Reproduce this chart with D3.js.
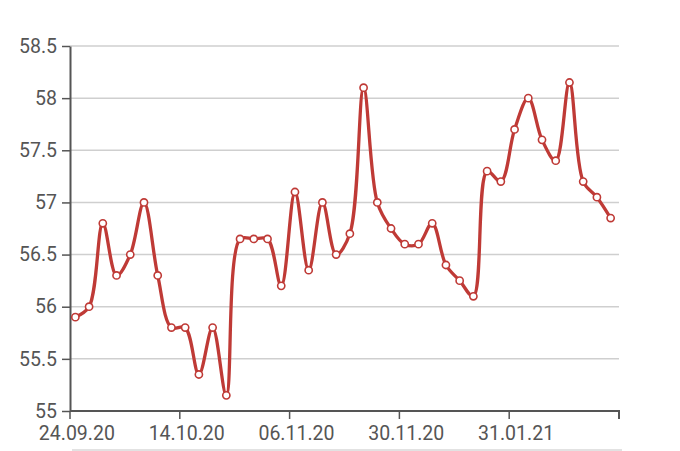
<!DOCTYPE html>
<html><head><meta charset="utf-8">
<script src="https://cdn.jsdelivr.net/npm/d3@7"></script>
<style>
html,body{margin:0;padding:0;background:#fff;}
svg{display:block;}
text{font-family:Roboto,"Noto Sans",sans-serif;}
</style></head>
<body><svg id="chart" width="680" height="451"></svg>
<script>
const values = [55.9,56.0,56.8,56.3,56.5,57.0,56.3,55.8,55.8,55.35,55.8,55.15,56.65,56.65,56.65,56.2,57.1,56.35,57.0,56.5,56.7,58.1,57.0,56.75,56.6,56.6,56.8,56.4,56.25,56.1,57.3,57.2,57.7,58.0,57.6,57.4,58.15,57.2,57.05,56.85];
const tickIndex = [0,8,16,24,32];
const tickLabels = ["24.09.20","14.10.20","06.11.20","30.11.20","31.01.21"];
const yTicks = [55,55.5,56,56.5,57,57.5,58,58.5];

const svg = d3.select("#chart");
const m = {left:70, right:61, top:46, bottom:40};
const W = 680, H = 451;
const idx = values.map((d,i)=>i);
const x = d3.scaleBand().domain(idx).range([m.left, W-m.right]).padding(0);
const y = d3.scaleLinear().domain([55,58.5]).range([H-m.bottom, m.top]);
const bw = x.bandwidth();
const off = bw/2 - 1.5;

// gridlines
svg.append("g").selectAll("line").data(yTicks.slice(1)).join("line")
  .attr("x1", m.left).attr("x2", W-m.right)
  .attr("y1", d=>y(d)).attr("y2", d=>y(d))
  .attr("stroke","#cfcfcf").attr("stroke-width",1.5);

// y axis
const yAxis = svg.append("g").attr("transform",`translate(${m.left},0)`)
  .call(d3.axisLeft(y).tickValues(yTicks).tickFormat(d=>String(d)).tickSize(8).tickSizeOuter(0).tickPadding(5));
yAxis.select(".domain").attr("stroke","#555").attr("stroke-width",2);
yAxis.selectAll(".tick line").attr("stroke","#555").attr("stroke-width",1.5);
yAxis.selectAll(".tick text").attr("fill","#555").attr("font-size",19.5).attr("font-family","Roboto");

// x axis
const xAxis = svg.append("g").attr("transform",`translate(0,${H-m.bottom})`)
  .call(d3.axisBottom(x).tickValues(tickIndex).tickFormat(i=>tickLabels[tickIndex.indexOf(i)]).tickSize(8).tickSizeOuter(8).tickPadding(7));
xAxis.select(".domain").attr("stroke","#555").attr("stroke-width",2).attr("d",`M${m.left},0V0H${W-m.right}V8`);
xAxis.selectAll(".tick line").attr("stroke","#555").attr("stroke-width",1.5).attr("transform",`translate(${-bw/2},0)`);
xAxis.selectAll(".tick text").attr("fill","#555").attr("font-size",19.5).attr("font-family","Roboto");

// line
const line = d3.line().x((d,i)=>x(i)+off).y(d=>y(d)).curve(d3.curveCatmullRom.alpha(0.5));
svg.append("path").datum(values).attr("d",line)
  .attr("fill","none").attr("stroke","#bf3a36").attr("stroke-width",3.3);

svg.append("g").selectAll("circle").data(values).join("circle")
  .attr("cx",(d,i)=>x(i)+off).attr("cy",d=>y(d)).attr("r",3.6)
  .attr("fill","#fff").attr("stroke","#bf3a36").attr("stroke-width",1.6);

// bottom strip
svg.append("rect").attr("x",72).attr("y",449).attr("width",550).attr("height",2).attr("fill","#e2e2e2");
</script></body></html>
